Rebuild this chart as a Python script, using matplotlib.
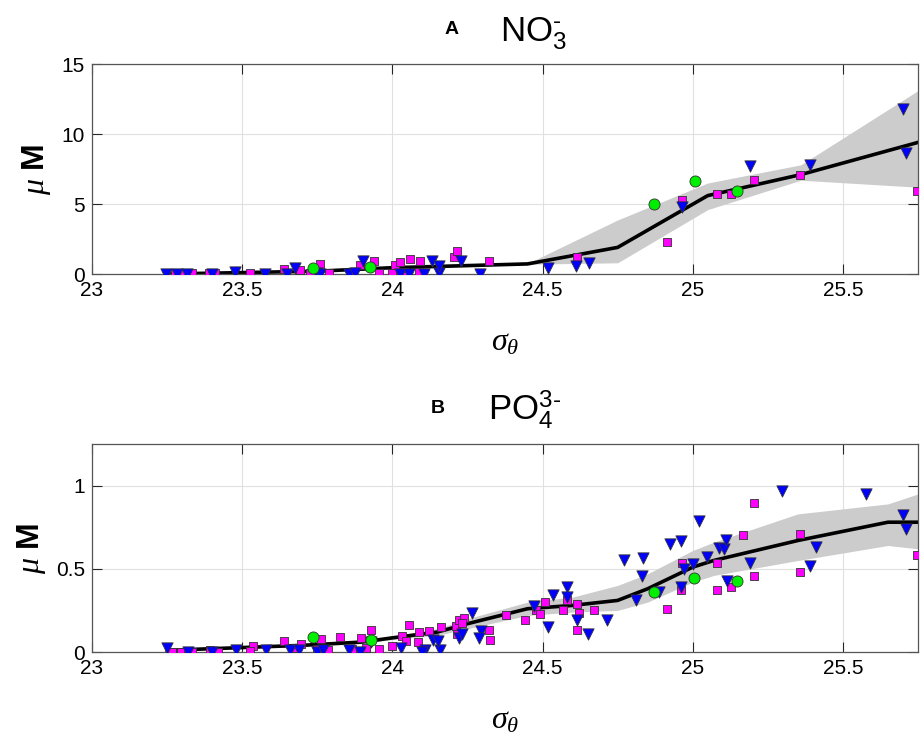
import numpy as np
import matplotlib
matplotlib.use("Agg")
import matplotlib.pyplot as plt

plt.rcParams['font.family'] = ['Liberation Sans', 'DejaVu Sans']
plt.rcParams['mathtext.fontset'] = 'custom'
plt.rcParams['mathtext.rm'] = 'Liberation Sans'
plt.rcParams['mathtext.bf'] = 'Liberation Sans:bold'
plt.rcParams['mathtext.it'] = 'Liberation Serif:italic'

# ---- NO3 panel (A) ----
no3_sq_sig = [23.277, 23.304, 23.332, 23.388, 23.41, 23.527, 23.638, 23.693, 23.727, 23.76,
              23.788, 23.86, 23.893, 23.938, 23.954, 23.999, 24.01, 24.027, 24.038, 24.06,
              24.088, 24.093, 24.204, 24.216, 24.321, 24.616, 24.916, 24.963, 25.082, 25.127,
              25.204, 25.358, 25.746]
no3_sq_val = [0.05, 0.05, 0.05, 0.05, 0.05, 0.05, 0.33, 0.29, 0.05, 0.69,
              0.05, 0.05, 0.64, 0.93, 0.05, 0.05, 0.64, 0.88, 0.17, 1.05,
              0.17, 0.95, 1.19, 1.64, 0.95, 1.19, 2.26, 5.29, 5.69, 5.69,
              6.71, 7.07, 5.95]
no3_tri_sig = [23.247, 23.282, 23.316, 23.399, 23.477, 23.577, 23.649, 23.677, 23.749, 23.76,
               23.854, 23.877, 23.902, 24.027, 24.054, 24.104, 24.132, 24.154, 24.154, 24.227,
               24.293, 24.519, 24.612, 24.654, 24.963, 25.19, 25.39, 25.699, 25.71]
no3_tri_val = [0.0, 0.0, 0.0, 0.0, 0.17, 0.0, 0.0, 0.4, 0.05, 0.0,
               0.0, 0.05, 0.95, 0.0, 0.0, 0.0, 0.95, 0.05, 0.57, 0.95,
               0.0, 0.4, 0.57, 0.81, 4.76, 7.71, 7.79, 11.79, 8.62]
no3_circ_sig = [23.736, 23.927, 24.871, 25.007, 25.147]
no3_circ_val = [0.4, 0.48, 4.98, 6.67, 5.93]

no3_line_sig = [23.25, 23.5, 23.75, 24.0, 24.25, 24.45, 24.75, 25.05, 25.36, 25.75]
no3_line_val = [0.0, 0.1, 0.2, 0.45, 0.6, 0.72, 1.9, 5.6, 7.1, 9.4]
no3_band_hi = [0.0, 0.1, 0.2, 0.45, 0.6, 0.75, 3.86, 6.5, 7.8, 13.1]
no3_band_lo = [0.0, 0.1, 0.2, 0.45, 0.6, 0.7, 0.8, 4.6, 6.7, 6.2]

# ---- PO4 panel (B) ----
po4_sq_sig = [23.268, 23.295, 23.321, 23.334, 23.393, 23.42, 23.536, 23.527, 23.639, 23.679,
              23.696, 23.764, 23.75, 23.786, 23.825, 23.866, 23.896, 23.911, 23.929, 23.955,
              24.0, 24.032, 24.054, 24.045, 24.089, 24.086, 24.121, 24.161, 24.211, 24.214,
              24.223, 24.238, 24.232, 24.321, 24.325, 24.379, 24.443, 24.479, 24.491, 24.509,
              24.568, 24.58, 24.616, 24.621, 24.616, 24.67, 24.916, 24.961, 24.963, 25.082,
              25.08, 25.129, 25.166, 25.204, 25.204, 25.358, 25.358, 25.746]
po4_sq_val = [0.0, 0.0, 0.006, 0.0, 0.014, 0.0, 0.034, 0.006, 0.066, 0.026,
              0.05, 0.08, 0.02, 0.01, 0.09, 0.02, 0.086, 0.026, 0.13, 0.02,
              0.034, 0.094, 0.16, 0.066, 0.12, 0.06, 0.126, 0.15, 0.154, 0.106,
              0.194, 0.206, 0.174, 0.134, 0.074, 0.22, 0.194, 0.25, 0.23, 0.3,
              0.25, 0.31, 0.134, 0.234, 0.286, 0.254, 0.26, 0.374, 0.532, 0.534,
              0.37, 0.39, 0.702, 0.895, 0.458, 0.71, 0.478, 0.581]
po4_tri_sig = [23.25, 23.32, 23.4, 23.48, 23.58, 23.66, 23.69, 23.75, 23.77, 23.857,
               23.893, 23.93, 24.03, 24.107, 24.1, 24.134, 24.157, 24.152, 24.223, 24.232,
               24.264, 24.295, 24.289, 24.473, 24.518, 24.536, 24.58, 24.58, 24.616, 24.652,
               24.714, 24.771, 24.81, 24.834, 24.83, 24.889, 24.924, 24.96, 24.96, 24.971,
               25.001, 25.021, 25.049, 25.086, 25.104, 25.11, 25.115, 25.19, 25.297, 25.39,
               25.412, 25.577, 25.699, 25.71]
po4_tri_val = [0.026, 0.0, 0.0, 0.01, 0.01, 0.01, 0.014, 0.0, 0.014, 0.01,
               0.0, 0.06, 0.026, 0.01, 0.0, 0.074, 0.01, 0.066, 0.086, 0.11,
               0.234, 0.126, 0.086, 0.274, 0.15, 0.34, 0.39, 0.33, 0.19, 0.106,
               0.19, 0.553, 0.31, 0.567, 0.455, 0.36, 0.647, 0.667, 0.39, 0.498,
               0.528, 0.786, 0.573, 0.627, 0.62, 0.671, 0.426, 0.534, 0.968, 0.518,
               0.633, 0.948, 0.825, 0.742]
po4_circ_sig = [23.736, 23.929, 24.871, 25.005, 25.146]
po4_circ_val = [0.09, 0.07, 0.36, 0.446, 0.426]

po4_line_sig = [23.25, 23.4, 23.7, 23.9, 24.0, 24.15, 24.25, 24.45, 24.6, 24.75,
                24.85, 25.0, 25.07, 25.35, 25.65, 25.75]
po4_line_val = [0.01, 0.02, 0.04, 0.06, 0.085, 0.12, 0.17, 0.26, 0.28, 0.31,
                0.38, 0.51, 0.55, 0.67, 0.78, 0.78]
po4_band_hi = [0.015, 0.025, 0.045, 0.07, 0.095, 0.14, 0.2, 0.3, 0.33, 0.4,
               0.47, 0.61, 0.66, 0.83, 0.89, 0.95]
po4_band_lo = [0.005, 0.015, 0.035, 0.05, 0.075, 0.1, 0.14, 0.22, 0.24, 0.25,
               0.3, 0.42, 0.46, 0.55, 0.64, 0.62]

W, H = 922, 739
fig = plt.figure(figsize=(W / 100, H / 100), dpi=100)


def px_axes(left, top, right, bottom):
    return fig.add_axes([left / W, 1 - bottom / H, (right - left) / W, (bottom - top) / H])


def draw_panel(ax, line_s, line_v, lo, hi, sq_s, sq_v, tri_s, tri_v, c_s, c_v, ylim, yticks, yticklabels):
    ax.fill_between(line_s, lo, hi, color='#cccccc', lw=0, zorder=1)
    ax.plot(line_s, line_v, color='k', lw=2.6, zorder=2)
    ax.scatter(sq_s, sq_v, marker='s', s=40, c='#ff00ff', edgecolors='#333333', linewidths=0.6, zorder=3)
    ax.scatter(tri_s, tri_v, marker='v', s=66, c='#0000ff', edgecolors='#333333', linewidths=0.6, zorder=4)
    ax.scatter(c_s, c_v, marker='o', s=64, c='#00ee00', edgecolors='#333333', linewidths=0.6, zorder=5)
    ax.set_xlim(23, 25.75)
    ax.set_ylim(*ylim)
    ax.set_xticks([23, 23.5, 24, 24.5, 25, 25.5])
    ax.set_xticklabels(['23', '23.5', '24', '24.5', '25', '25.5'])
    ax.set_yticks(yticks)
    ax.set_yticklabels(yticklabels)
    ax.grid(True, color='#e0e0e0', lw=0.8)
    ax.set_axisbelow(True)
    ax.tick_params(direction='in', length=7, width=0.8, top=True, right=True,
                   labelsize=15, colors='#262626', labelcolor='k', pad=5)
    for sp in ax.spines.values():
        sp.set_color('#555555')
        sp.set_linewidth(0.9)
    ax.set_xlabel(r'$\sigma_\theta$', fontsize=23, labelpad=20)
    ax.set_ylabel(r'$\mu$ $\mathbf{M}$', fontsize=23, labelpad=6)


ax1 = px_axes(92, 64, 918, 274)
draw_panel(ax1, no3_line_sig, no3_line_val, no3_band_lo, no3_band_hi,
           no3_sq_sig, no3_sq_val, no3_tri_sig, no3_tri_val, no3_circ_sig, no3_circ_val,
           (0, 15), [0, 5, 10, 15], ['0', '5', '10', '15'])

ax2 = px_axes(92, 444, 918, 652)
draw_panel(ax2, po4_line_sig, po4_line_val, po4_band_lo, po4_band_hi,
           po4_sq_sig, po4_sq_val, po4_tri_sig, po4_tri_val, po4_circ_sig, po4_circ_val,
           (0, 1.25), [0, 0.5, 1], ['0', '0.5', '1'])

# panel titles
fig.text(452 / W, 1 - 30 / H, 'A', fontsize=14, fontweight='bold', ha='center', va='center')
fig.text(500 / W, 1 - 34 / H, r'$\mathrm{NO}_3^{\text{-}}$', fontsize=25, ha='left', va='center')
fig.text(438 / W, 1 - 408 / H, 'B', fontsize=14, fontweight='bold', ha='center', va='center')
fig.text(488 / W, 1 - 410 / H, r'$\mathrm{PO}_4^{3\text{-}}$', fontsize=25, ha='left', va='center')

fig.savefig('out.png', dpi=100)
